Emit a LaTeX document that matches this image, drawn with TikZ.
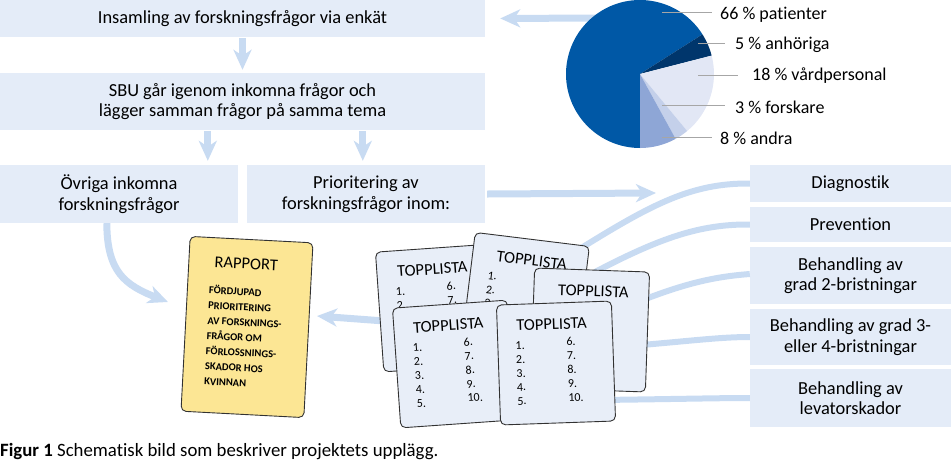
\documentclass[tikz,border=0pt]{standalone}
\usepackage{fontspec}
\setmainfont{Carlito}[Ligatures=NoCommon]
\usetikzlibrary{arrows.meta,calc}
\definecolor{boxfill}{RGB}{228,236,248}
\definecolor{arrowc}{RGB}{200,219,242}
\definecolor{pieA}{RGB}{0,88,166}
\definecolor{pieB}{RGB}{0,54,108}
\definecolor{pieC}{RGB}{226,231,245}
\definecolor{pieD}{RGB}{196,208,234}
\definecolor{pieE}{RGB}{142,166,214}
\definecolor{cardfill}{RGB}{232,238,248}
\definecolor{repfill}{RGB}{252,230,148}
\definecolor{cardline}{RGB}{50,50,50}
\tikzset{
  box/.style={fill=boxfill, draw=none, inner sep=0pt, align=center, font=\fontsize{18.4}{20.5}\selectfont},
  arr/.style={draw=arrowc, line width=7pt, -{Stealth[length=20pt,width=18pt,inset=6pt]}},
  conn/.style={draw=arrowc, line width=6pt},
  card/.style={draw=cardline, fill=cardfill, line width=0.9pt, rounded corners=5pt, minimum width=115pt, minimum height=120pt, inner sep=0pt, transform shape},
  ttl/.style={font=\fontsize{16.5}{18}\selectfont, inner sep=0pt, transform shape},
  num/.style={font=\fontsize{12}{13}\selectfont, inner sep=0pt, anchor=west, transform shape},
  lead/.style={draw=gray!70, line width=0.8pt},
  plabel/.style={font=\fontsize{18}{20}\selectfont, anchor=west, inner sep=0pt},
}
\newcommand{\colone}[1]{%
  \foreach \n [count=\i from 0] in {#1} {
    \node[num] at (-40,-19+\i*14) {\n};
  }
}
\newcommand{\coltwo}[1]{%
  \foreach \n [count=\i from 0] in {#1} {
    \node[num] at (11,-21+\i*14) {\n};
  }
}
\begin{document}
\begin{tikzpicture}[x=1pt,y=-1pt]
\useasboundingbox (0,0) rectangle (951,467);

% left boxes
\node[box, minimum width=485pt, minimum height=37pt] (b1) at (242.5,18.5) {Insamling av forskningsfrågor via enkät};
\node[box, minimum width=485pt, minimum height=57pt] (b2) at (242.5,101.5) {SBU går igenom inkomna frågor och\\lägger samman frågor på samma tema};
\node[box, minimum width=238pt, minimum height=58pt] (b3) at (119,194) {Övriga inkomna\\forskningsfrågor};
\node[box, minimum width=238pt, minimum height=58pt] (b4) at (366,194) {Prioritering av\\forskningsfrågor inom:};

% right boxes
\node[box, minimum width=201pt, minimum height=37pt] (r1) at (850.5,183.5) {Diagnostik};
\node[box, minimum width=201pt, minimum height=35pt] (r2) at (850.5,224.5) {Prevention};
\node[box, minimum width=201pt, minimum height=57pt] (r3) at (850.5,275.5) {Behandling av\\grad 2-bristningar};
\node[box, minimum width=201pt, minimum height=56pt] (r4) at (850.5,337) {Behandling av grad 3-\\eller 4-bristningar};
\node[box, minimum width=201pt, minimum height=58pt] (r5) at (850.5,398) {Behandling av\\levatorskador};

% arrows
\draw[arr, shorten <=1pt, shorten >=3pt] (b1.south) -- (b2.north);
\draw[arr, shorten <=1pt, shorten >=4pt] ($(b2.south west)+(208,0)$) -- ($(b3.north west)+(208,0)$);
\draw[arr, shorten <=1pt, shorten >=4pt] ($(b2.south west)+(363,0)$) -- ($(b4.north west)+(116,0)$);
\coordinate (rt) at (656,193);
\draw[arr] ([xshift=2pt]b4.east) -- (rt);
\coordinate (pa) at (610,18);
\draw[arr, shorten >=15pt] (pa) -- (b1.east);
\coordinate (ovt) at (168,302);
\draw[arr] ($(b3.south west)+(107,0)$) .. controls (107,272) and (125,285) .. (ovt);
\coordinate (cs) at (398,322);
\coordinate (repin) at (317,316);
\draw[arr] (cs) -- (repin);

% curves to right boxes
\coordinate (k1) at (570,255);
\coordinate (k2) at (595,272);
\coordinate (k3) at (630,305);
\coordinate (k4) at (630,346);
\coordinate (k5) at (600,400);
\draw[conn] (k1) .. controls (650,205) and (690,183) .. (r1.west);
\draw[conn] (k2) .. controls (660,238) and (700,224) .. (r2.west);
\draw[conn] (k3) .. controls (680,285) and (710,277) .. ([yshift=1.5pt]r3.west);
\draw[conn] (k4) .. controls (690,341) and (720,337) .. (r4.west);
\draw[conn] (k5) .. controls (680,399) and (720,398) .. (r5.west);

% pie
\coordinate (pc) at (640,74);
\begin{scope}[shift={(640,74)}, y=1pt]
  \fill[pieA] (0,0) -- (32.4:74) arc[start angle=32.4, end angle=270, radius=74] -- cycle;
  \fill[pieB] (0,0) -- (14.4:74) arc[start angle=14.4, end angle=32.4, radius=74] -- cycle;
  \fill[pieC] (0,0) -- (-50.4:74) arc[start angle=-50.4, end angle=14.4, radius=74] -- cycle;
  \fill[pieD] (0,0) -- (-61.2:74) arc[start angle=-61.2, end angle=-50.4, radius=74] -- cycle;
  \fill[pieE] (0,0) -- (-90:74) arc[start angle=-90, end angle=-61.2, radius=74] -- cycle;
\end{scope}
\node[plabel] (l1) at (720,15) {66 \% patienter};
\node[plabel] (l2) at (735,45) {5 \% anhöriga};
\node[plabel] (l3) at (752,76) {18 \% vårdpersonal};
\node[plabel] (l4) at (735,107) {3 \% forskare};
\node[plabel] (l5) at (720,138) {8 \% andra};
\draw[lead] (662,12) -- (712,12);
\draw[lead] (698,43) -- (725,43);
\draw[lead] (698,75) -- (738,75);
\draw[lead] (662,105) -- (725,105);
\draw[lead] (662,137) -- (712,137);

% report card
\begin{scope}[shift={(247,327)}, rotate=-3]
  \node[draw=cardline, fill=repfill, line width=0.9pt, rounded corners=5pt, minimum width=123pt, minimum height=175pt, transform shape] (rep) at (0,0) {};
  \node[font=\fontsize{16.5}{18}\selectfont, inner sep=0pt, transform shape] at (-4,-63) {RAPPORT};
  \node[font=\bfseries\fontsize{10.5}{15.2}\selectfont, align=left, anchor=north west, inner sep=0pt, transform shape] at (-40,-40)
    {FÖRDJUPAD\\PRIORITERING\\AV FORSKNINGS-\\FRÅGOR OM\\FÖRLOSSNINGS-\\SKADOR HOS\\KVINNAN};
\end{scope}

% topplista cards
\begin{scope}[shift={(437,308)}, rotate=4]
  \node[card] (cA) at (0,0) {};
  \node[ttl] at (-2,-39) {TOPPLISTA};
  \colone{1.,2.}
  \coltwo{6.,7.}
\end{scope}
\begin{scope}[shift={(525,299)}, rotate=-7]
  \node[card] (cB) at (0,0) {};
  \node[ttl] at (2,-39) {TOPPLISTA};
  \colone{1.,2.,3.}
\end{scope}
\begin{scope}[shift={(590,330)}, rotate=-2]
  \node[card] (cC) at (0,0) {};
  \node[ttl] at (2,-39) {TOPPLISTA};
\end{scope}
\begin{scope}[shift={(454,364)}, rotate=4]
  \node[card] (cD) at (0,0) {};
  \node[ttl] at (-3,-39) {TOPPLISTA};
  \colone{1.,2.,3.,4.,5.}
  \coltwo{6.,7.,8.,9.,10.}
\end{scope}
\begin{scope}[shift={(556,363)}, rotate=2]
  \node[card] (cE) at (0,0) {};
  \node[ttl] at (-3,-39) {TOPPLISTA};
  \colone{1.,2.,3.,4.,5.}
  \coltwo{6.,7.,8.,9.,10.}
\end{scope}

% caption
\node[anchor=base west, inner sep=0pt, font=\fontsize{18.8}{20}\selectfont] (cap) at (0,456) {\textbf{Figur 1} Schematisk bild som beskriver projektets upplägg.};
\end{tikzpicture}
\end{document}
